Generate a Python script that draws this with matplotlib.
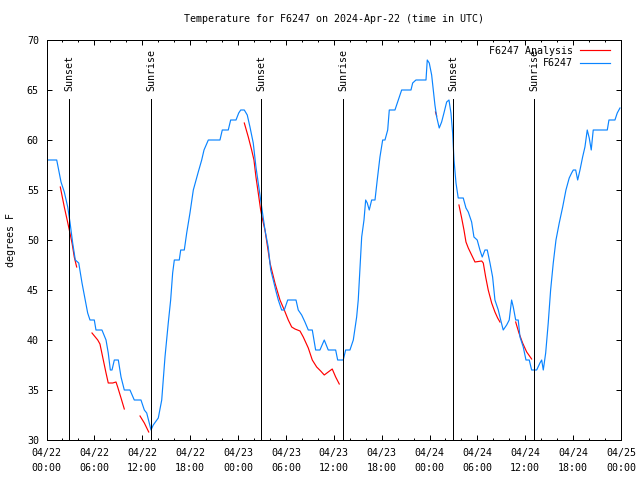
import matplotlib
matplotlib.use("Agg")
import matplotlib.pyplot as plt
import matplotlib.dates as mdates
import pandas as pd

plt.rcParams['font.family'] = ['DejaVu Sans Mono']
plt.rcParams['font.size'] = 7.2

start = pd.Timestamp("2024-04-22 00:00")

# observed temperature (hours after 04/22 00:00 UTC, degrees F)
obs_hours = [0.15, 1.28, 1.82, 2.23, 2.66, 2.94, 3.28, 3.61, 4.04, 4.45, 4.86, 5.16, 5.45, 5.99,
             6.20, 6.95, 7.46, 7.74, 8.00, 8.21, 8.50, 9.00, 9.34, 9.75, 10.46, 11.00, 11.84,
             12.26, 12.56, 13.10, 13.38, 14.01, 14.44, 14.85, 15.26, 15.56, 15.81, 16.02, 16.64,
             16.82, 17.27, 17.57, 17.98, 18.40, 19.02, 19.45, 19.74, 20.28, 21.74, 22.03, 22.78,
             23.08, 23.75, 24.09, 24.34, 24.79, 25.16, 25.50, 25.91, 26.25, 26.54, 26.97, 27.38,
             27.79, 28.10, 28.42, 28.72, 29.05, 29.47, 29.80, 30.23, 31.27, 31.55, 31.98, 32.39,
             32.81, 33.31, 33.73, 34.27, 34.81, 35.31, 36.24, 36.49, 37.19, 37.49, 38.03, 38.45,
             38.87, 39.07, 39.29, 39.50, 39.79, 40.00, 40.20, 40.45, 40.75, 41.17, 41.45, 41.79,
             42.13, 42.42, 42.76, 42.96, 43.67, 44.09, 44.51, 45.68, 45.89, 46.30, 47.56, 47.72,
             47.97, 48.27, 48.47, 48.68, 48.90, 49.22, 49.52, 49.81, 50.15, 50.44, 50.69, 50.90,
             51.07, 51.32, 51.60, 52.23, 52.57, 52.86, 53.28, 53.57, 53.98, 54.32, 54.61, 54.95,
             55.24, 55.58, 55.91, 56.20, 56.62, 56.92, 57.24, 57.67, 57.99, 58.29, 58.50, 58.80,
             59.12, 59.34, 59.75, 60.09, 60.50, 60.80, 61.43, 61.84, 62.06, 62.26, 62.56, 62.88,
             63.18, 63.51, 63.85, 64.26, 64.69, 65.10, 65.51, 65.81, 66.02, 66.32, 66.57, 66.86,
             67.19, 67.48, 67.77, 68.02, 68.27, 68.52, 70.28, 70.49, 71.24, 71.53, 71.87]
obs_temp = [58, 58, 55.8, 54.8, 53.3, 51.8, 49.7, 48, 47.7, 45.7, 44, 42.7, 42, 42,
            41, 41, 40, 38.7, 37, 37, 38, 38, 36.3, 35, 35, 34, 34,
            33, 32.7, 31, 31.5, 32.2, 34, 38.3, 41.7, 44, 46.7, 48, 48,
            49, 49, 50.7, 52.7, 55, 56.8, 58, 59, 60, 60, 61, 61,
            62, 62, 62.7, 63, 63, 62.5, 61.3, 59.7, 57.3, 55.7, 53.3, 51,
            49.3, 47, 46, 45, 44, 43, 43, 44, 44, 43, 42.5, 41.8,
            41, 41, 39, 39, 40, 39, 39, 38, 38, 39, 39, 40,
            42.3, 44, 47.3, 50.3, 52, 54, 53.7, 53, 54, 54, 56, 58.3,
            60, 60, 61, 63, 63, 64, 65, 65, 65.7, 66, 66, 68,
            67.7, 66.5, 65, 63.5, 62.3, 61.2, 61.8, 62.7, 63.8, 64, 62.7, 60.7,
            58, 55.7, 54.2, 54.2, 53.2, 52.8, 51.8, 50.3, 50, 49, 48.3, 49,
            49, 47.7, 46.3, 44, 43, 42, 41, 41.5, 42, 44, 43.3, 42,
            42, 40.3, 39.3, 38, 38, 37, 37, 37.7, 38, 37, 38.7, 41.7,
            45, 47.7, 50, 51.7, 53.3, 55, 56.2, 56.7, 57, 57, 56, 57,
            58.3, 59.3, 61, 60.2, 59, 61, 61, 62, 62, 62.7, 63.2]

# analysis runs, one list per piece
ana_hours = [
    [1.73, 2.23, 2.78, 3.20, 3.48, 3.78],
    [5.70, 6.42, 6.70, 7.04, 7.46, 7.74, 8.30, 8.71, 8.92, 9.34, 9.75],
    [11.72, 12.26, 12.81],
    [24.79, 25.29, 25.71, 26.00, 26.25, 26.54, 26.84, 27.09, 27.38, 28.01, 28.63, 29.26, 29.80,
     30.30, 30.73, 31.14, 31.77, 32.18, 32.81, 33.31, 33.86, 34.36, 34.81, 35.31, 35.81, 36.24, 36.69],
    [48.75, 48.90],
    [51.69, 52.03, 52.32, 52.57, 52.86, 53.28, 53.70, 54.54, 54.74, 55.04, 55.36, 55.79, 56.20,
     56.54, 56.83],
    [58.80, 59.21, 59.67, 60.18, 60.80],
]
ana_temp = [
    [55.3, 53.3, 51.3, 49.7, 48.3, 47.3],
    [40.7, 40, 39.6, 38.3, 36.7, 35.7, 35.7, 35.8, 35.3, 34.2, 33.1],
    [32.4, 31.7, 30.8],
    [61.7, 60.3, 59, 58, 56.3, 54.7, 53, 52, 51, 47.7, 45.7, 44, 43,
     42, 41.3, 41.1, 40.9, 40.3, 39.2, 38, 37.3, 36.9, 36.5, 36.8, 37.1, 36.3, 35.6],
    [62.8, 62.4],
    [53.5, 52.2, 51, 49.8, 49.2, 48.5, 47.8, 47.9, 47.7, 46.3, 45, 43.7, 42.8,
     42.2, 41.8],
    [41.8, 40.7, 39.7, 38.8, 38.1],
]

sun_times = ["2024-04-22 02:52", "2024-04-22 13:08", "2024-04-23 02:53",
             "2024-04-23 13:12", "2024-04-24 02:59", "2024-04-24 13:08"]
sun_labels = ["Sunset", "Sunrise", "Sunset", "Sunrise", "Sunset", "Sunrise"]


def to_time(hours):
    return start + pd.to_timedelta(hours, unit="h")


fig = plt.figure(figsize=(6.4, 4.8), dpi=100)
ax = fig.add_axes([46.5 / 640, 40 / 480, 574.5 / 640, 400 / 480])

red = "#ff0000"
blue = "#0a84ff"
lw = 0.72
for i, (h, t) in enumerate(zip(ana_hours, ana_temp)):
    ax.plot(to_time(h), t, color=red, lw=0.85,
            label="F6247 Analysis" if i == 0 else None)
ax.plot(to_time(obs_hours), obs_temp, color=blue, lw=0.85, label="F6247")

for s, lab in zip(sun_times, sun_labels):
    ts = pd.Timestamp(s)
    ax.vlines(ts, 30, 64.1, color="black", lw=lw, antialiased=False, zorder=3)
    ax.text(ts, 64.85, lab, rotation=90, ha="center", va="bottom")

ax.set_xlim(start, start + pd.Timedelta(hours=72))
ax.set_ylim(30, 70)
ax.set_yticks(range(30, 71, 5))
ax.xaxis.set_major_locator(mdates.HourLocator(byhour=range(0, 24, 6)))
ax.xaxis.set_minor_locator(mdates.HourLocator(byhour=range(0, 24, 2)))
ax.xaxis.set_major_formatter(mdates.DateFormatter("%m/%d\n%H:%M"))
ax.tick_params(which="both", direction="in", top=True, right=True, width=lw, colors="black")
ax.tick_params(which="major", length=3.3)
ax.tick_params(which="minor", length=1.6)
ax.tick_params(axis="x", pad=5.5)
ax.tick_params(axis="y", pad=5.5)
for sp in ax.spines.values():
    sp.set_linewidth(lw)

ax.set_ylabel("degrees F", labelpad=8)
ax.set_title("Temperature for F6247 on 2024-Apr-22 (time in UTC)", fontsize=7.2, pad=13)

ax.legend(loc="upper right", bbox_to_anchor=(1 - 6 / 574.5, 1 - 1 / 400), frameon=False,
          markerfirst=False, handlelength=3.0, handletextpad=0.7, labelspacing=0.25,
          borderaxespad=0, borderpad=0.5)

fig.canvas.draw()
plt.setp(ax.get_xticklabels(), linespacing=1.7)

fig.savefig("out.png", dpi=100)
